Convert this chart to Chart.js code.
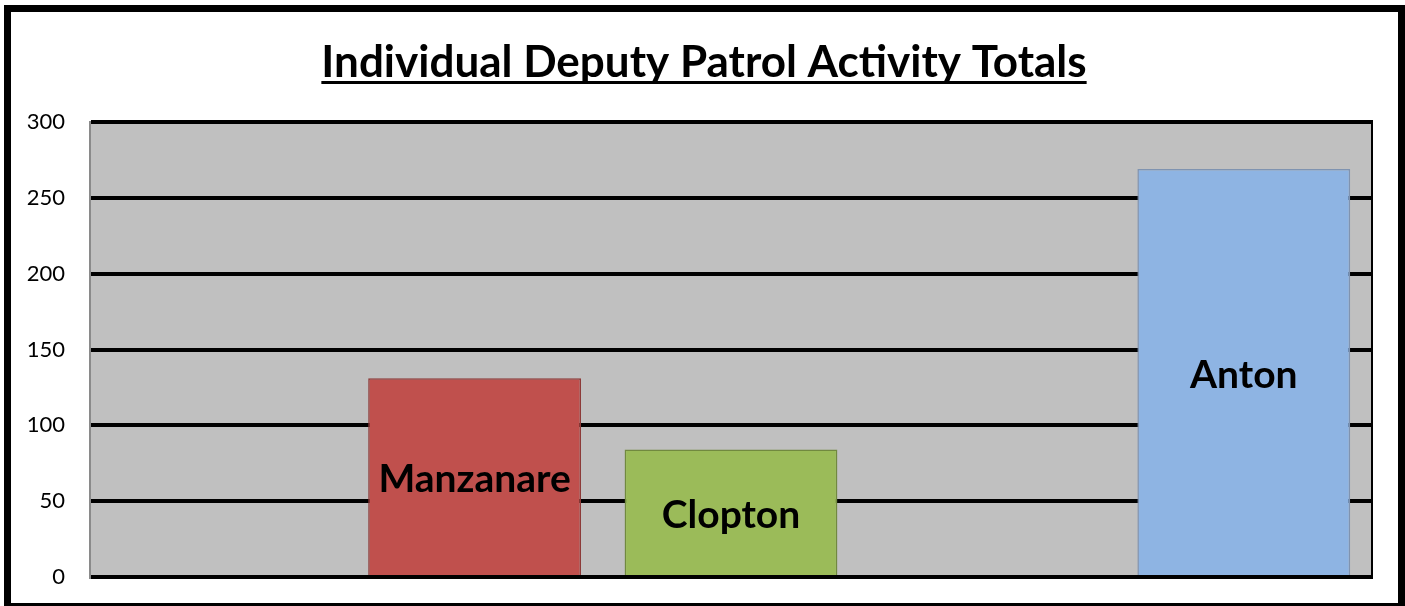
<!DOCTYPE html>
<html>
<head>
<meta charset="utf-8">
<script src="https://cdn.jsdelivr.net/npm/chart.js@4"></script>
<style>
  html, body { margin: 0; padding: 0; background: #fff; }
  #wrap { position: relative; width: 1405px; height: 606px; }
  #frame { position: absolute; left: 4px; top: 5px; width: 1387px; height: 591px; border: 7px solid #000; border-bottom-width: 4px; pointer-events: none; }
  canvas { position: absolute; left: 0; top: 0; }
</style>
</head>
<body>
<div id="wrap">
  <canvas id="grafico" width="1405" height="606"></canvas>
  <div id="frame"></div>
</div>
<script>
// Datos del gráfico
const titulo = "Individual Deputy Patrol Activity Totals"
const categorias = ["", "Manzanare", "Clopton", "", "Anton"]
const valores = [null, 131, 84, null, 269]
const ticksY = [0, 50, 100, 150, 200, 250, 300]

const colores = {
  fondo: "#c0c0c0",
  barras: ["#c0504d", "#c0504d", "#9bbb59", "#8eb4e3", "#8eb4e3"],
  bordes: ["#8c3a38", "#8c3a38", "#71893f", "#7f93b0", "#7f93b0"],
}

// Fondo gris del área y línea derecha
const fondoPlugin = {
  id: "fondo",
  beforeDraw(chart) {
    const { ctx, chartArea: a } = chart
    ctx.save()
    ctx.fillStyle = colores.fondo
    ctx.fillRect(a.left, a.top, a.right - a.left, a.bottom - a.top)
    ctx.restore()
  },
  afterDraw(chart) {
    const { ctx, chartArea: a } = chart
    ctx.save()
    ctx.strokeStyle = "#000"
    ctx.lineWidth = 2
    ctx.beginPath()
    ctx.moveTo(a.right, a.top - 2)
    ctx.lineTo(a.right, a.bottom + 2)
    ctx.stroke()
    // título subrayado
    ctx.fillStyle = "#000"
    ctx.font = "bold 44px Lato"
    ctx.textAlign = "center"
    ctx.textBaseline = "alphabetic"
    const cx = 704
    ctx.fillText(titulo, cx, 77)
    const w = ctx.measureText(titulo).width
    ctx.fillRect(cx - w / 2, 81, w, 3)
    ctx.restore()
  },
}

// Nombres dentro de las barras
const etiquetasPlugin = {
  id: "etiquetas",
  afterDatasetsDraw(chart) {
    const { ctx } = chart
    const meta = chart.getDatasetMeta(0)
    ctx.save()
    ctx.fillStyle = "#000"
    ctx.font = "bold 39px Lato"
    ctx.textAlign = "center"
    ctx.textBaseline = "middle"
    meta.data.forEach((bar, i) => {
      if (valores[i] == null) return
      ctx.fillText(categorias[i], bar.x, (bar.y + bar.base) / 2 + 3)
    })
    ctx.restore()
  },
}

const ctx = document.getElementById("grafico").getContext("2d")
new Chart(ctx, {
  type: "bar",
  data: {
    labels: categorias,
    datasets: [
      {
        data: valores,
        backgroundColor: colores.barras,
        borderColor: colores.bordes,
        borderWidth: 1.5,
        categoryPercentage: 1,
        barPercentage: 0.83,
      },
    ],
  },
  options: {
    responsive: false,
    animation: false,
    layout: { padding: { top: 122, left: 0, right: 33, bottom: 29 } },
    plugins: {
      legend: { display: false },
      tooltip: { enabled: false },
      title: { display: false },
    },
    scales: {
      x: { display: false },
      y: {
        min: 0,
        max: 300,
        afterFit(scale) {
          scale.width = 90
          scale.paddingTop = 0
          scale.paddingBottom = 0
        },
        afterBuildTicks(scale) { scale.ticks = ticksY.map((v) => ({ value: v })) },
        ticks: { color: "#000", padding: 25, font: { family: "Lato", size: 22 } },
        grid: { color: "#000", lineWidth: 4, drawTicks: false },
        border: { color: "#8a8a8a", width: 2 },
      },
    },
  },
  plugins: [fondoPlugin, etiquetasPlugin],
})
</script>
</body>
</html>
